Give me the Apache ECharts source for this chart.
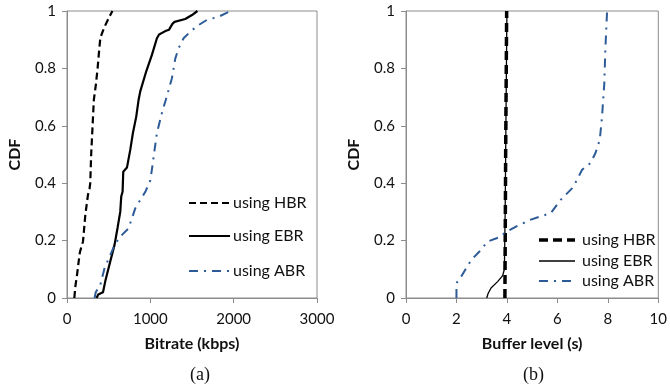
<!DOCTYPE html>
<html>
<head>
<meta charset="utf-8">
<script src="https://cdn.jsdelivr.net/npm/echarts@6/dist/echarts.min.js"></script>
<style>
  html, body { margin: 0; padding: 0; background: #fff; }
  #chart { width: 670px; height: 388px; }
</style>
</head>
<body>
<div id="chart"></div>
<script>
// (a) CDF of bitrate (kbps): [bitrate, cumulative fraction]
var bitrateHBR = [
  [88, 0], [100, 0.04], [120, 0.08], [140, 0.127], [155, 0.16], [175, 0.18],
  [192, 0.197], [205, 0.24], [220, 0.29], [252, 0.36], [270, 0.38], [279, 0.4],
  [290, 0.5], [307, 0.6], [322, 0.69], [345, 0.74], [367, 0.8], [385, 0.86],
  [400, 0.906], [430, 0.93], [459, 0.95], [500, 0.975], [545, 1]
];
var bitrateEBR = [
  [355, 0], [375, 0.012], [432, 0.02], [459, 0.058], [519, 0.127], [571, 0.186],
  [607, 0.245], [639, 0.3], [651, 0.354], [667, 0.37], [675, 0.44], [720, 0.455],
  [731, 0.458], [759, 0.516], [791, 0.575], [831, 0.632], [859, 0.69], [879, 0.72],
  [951, 0.79], [1019, 0.847], [1079, 0.905], [1105, 0.918], [1180, 0.93],
  [1225, 0.935], [1265, 0.955], [1290, 0.962], [1419, 0.972], [1500, 0.986], [1565, 1]
];
var bitrateABR = [
  [331, 0], [345, 0.02], [400, 0.046], [451, 0.105], [520, 0.15], [580, 0.19],
  [660, 0.22], [739, 0.243], [820, 0.313], [880, 0.342], [940, 0.37], [1000, 0.41],
  [1020, 0.45], [1051, 0.516], [1079, 0.575], [1139, 0.645], [1185, 0.69],
  [1259, 0.766], [1300, 0.835], [1339, 0.87], [1399, 0.905], [1479, 0.928],
  [1579, 0.951], [1679, 0.969], [1819, 0.98], [1939, 0.997], [1960, 1]
];

// (b) CDF of buffer level (s): [buffer level, cumulative fraction]
var bufferHBR = [
  [3.92, 0], [3.95, 0.5], [3.99, 1]
];
var bufferEBR = [
  [3.2, 0], [3.25, 0.015], [3.37, 0.035], [3.64, 0.058], [3.83, 0.078],
  [3.9, 0.1], [3.93, 0.3], [3.96, 0.6], [4.0, 1]
];
var bufferABR = [
  [2.0, 0], [2.0, 0.052], [2.19, 0.075], [2.59, 0.133], [2.91, 0.162],
  [3.24, 0.197], [3.7, 0.212], [3.96, 0.23], [4.36, 0.249], [4.95, 0.273],
  [5.74, 0.296], [6.13, 0.342], [6.59, 0.383], [6.78, 0.412], [6.98, 0.447],
  [7.31, 0.47], [7.51, 0.505], [7.68, 0.551], [7.77, 0.632], [7.86, 0.748],
  [7.9, 0.864], [7.97, 1], [8.0, 1]
];

var seriesNames = ['using HBR', 'using EBR', 'using ABR'];
var cdfTicks = { min: 0, max: 1, interval: 0.2 };
var bitrateTicks = { min: 0, max: 3000, interval: 1000 };
var bufferTicks = { min: 0, max: 10, interval: 2 };

var FONT = 'Lato, "Open Sans", sans-serif';
var AXIS_GRAY = '#8c8c8c';
var BLUE = '#2d5b98';

// line styles per panel: [HBR, EBR, ABR]
var stylesA = [
  { color: '#000', width: 2.2, dash: [7, 4] },
  { color: '#000', width: 2.2, dash: null },
  { color: BLUE, width: 2, dash: [9, 6, 2, 6] }
];
var stylesB = [
  { color: '#000', width: 3.5, dash: [9, 5] },
  { color: '#000', width: 1.3, dash: null },
  { color: BLUE, width: 2, dash: [9, 6, 2, 6] }
];

function valueAxis(ticks, name, gridIndex, isY) {
  return {
    type: 'value',
    gridIndex: gridIndex,
    min: ticks.min, max: ticks.max, interval: ticks.interval,
    name: name,
    nameLocation: 'middle',
    nameGap: isY ? 44 : 38,
    nameTextStyle: { fontFamily: FONT, fontSize: 16, fontWeight: 'bold', color: '#111' },
    axisLine: { show: true, onZero: false, lineStyle: { color: AXIS_GRAY, width: 1 } },
    axisTick: { show: true, inside: false, length: 5, lineStyle: { color: AXIS_GRAY } },
    axisLabel: {
      fontFamily: FONT, fontSize: 15, color: '#111',
      margin: isY ? 11 : 14,
      showMinLabel: true, showMaxLabel: true,
      formatter: function (v) { return String(v); }
    },
    splitLine: { show: false }
  };
}

function curve(name, data, xi, st) {
  return {
    type: 'line',
    name: name,
    xAxisIndex: xi, yAxisIndex: xi,
    data: data,
    symbol: 'none',
    smooth: false,
    animation: false,
    lineStyle: { color: st.color, width: st.width, type: st.dash || 'solid' },
    itemStyle: { color: st.color }
  };
}

// Legend key rows drawn as line + label
function legendRows(x1, x2, textX, ys, styles) {
  var out = [];
  styles.forEach(function (st, i) {
    out.push({
      type: 'line', silent: true,
      shape: { x1: x1, y1: ys[i], x2: x2, y2: ys[i] },
      style: { stroke: st.color, lineWidth: st.width, lineDash: st.dash }
    });
    out.push({
      type: 'text', silent: true, x: textX, y: ys[i],
      style: { text: seriesNames[i], font: '16px ' + FONT, fill: '#111', verticalAlign: 'middle' }
    });
  });
  return out;
}

var graphics = [
  { type: 'text', left: 190, top: 366, style: { text: '(a)', font: '18px "Liberation Serif", "Times New Roman", serif', fill: '#111' } },
  { type: 'text', left: 523, top: 366, style: { text: '(b)', font: '18px "Liberation Serif", "Times New Roman", serif', fill: '#111' } }
].concat(
  legendRows(189, 230, 233, [203, 236, 271], stylesA),
  legendRows(539, 575, 582, [240, 261, 281], stylesB)
);

var chart = echarts.init(document.getElementById('chart'), null, { renderer: 'canvas' });
chart.setOption({
  backgroundColor: '#fff',
  animation: false,
  grid: [
    { left: 67, top: 11, width: 250, height: 287, show: true, borderColor: AXIS_GRAY, borderWidth: 1, backgroundColor: 'transparent' },
    { left: 406, top: 11, width: 254, height: 287, show: true, borderColor: AXIS_GRAY, borderWidth: 1, backgroundColor: 'transparent' }
  ],
  xAxis: [
    valueAxis(bitrateTicks, 'Bitrate (kbps)', 0, false),
    valueAxis(bufferTicks, 'Buffer level (s)', 1, false)
  ],
  yAxis: [
    valueAxis(cdfTicks, 'CDF', 0, true),
    valueAxis(cdfTicks, 'CDF', 1, true)
  ],
  series: [
    curve(seriesNames[0], bitrateHBR, 0, stylesA[0]),
    curve(seriesNames[1], bitrateEBR, 0, stylesA[1]),
    curve(seriesNames[2], bitrateABR, 0, stylesA[2]),
    curve(seriesNames[0], bufferHBR, 1, stylesB[0]),
    curve(seriesNames[1], bufferEBR, 1, stylesB[1]),
    curve(seriesNames[2], bufferABR, 1, stylesB[2])
  ],
  graphic: graphics
});
</script>
</body>
</html>
